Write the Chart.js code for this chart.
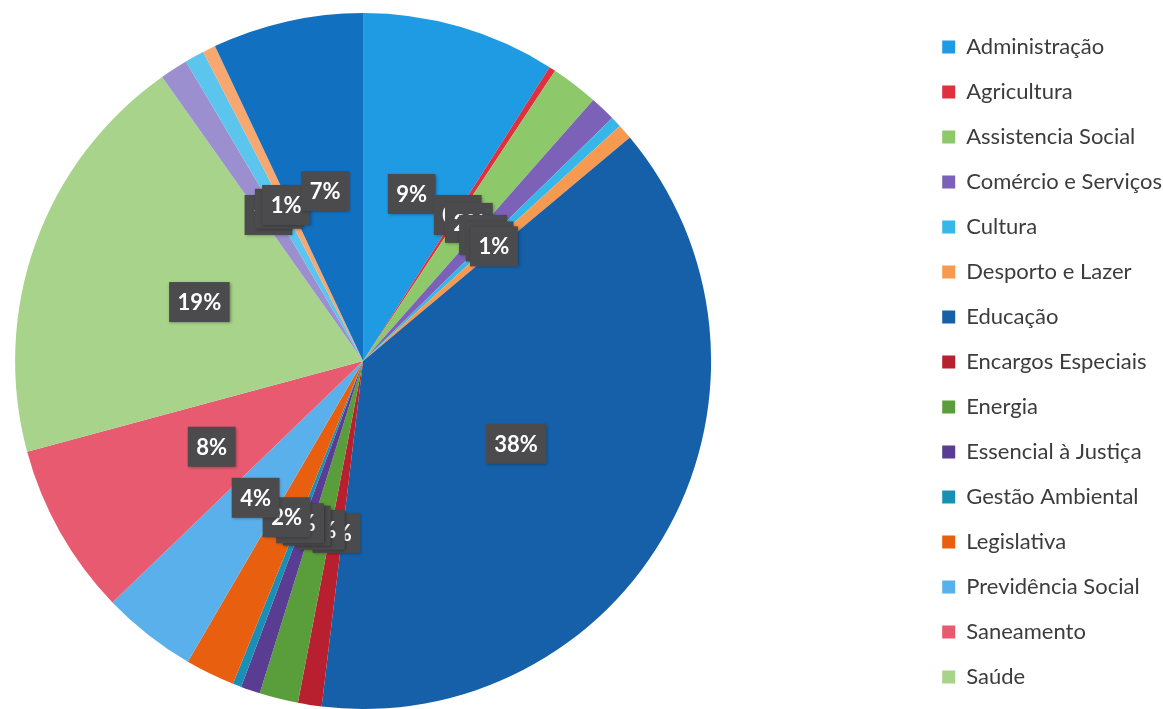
<!DOCTYPE html>
<html>
<head>
<meta charset="utf-8">
<script src="https://cdn.jsdelivr.net/npm/chart.js@4.4.1/dist/chart.umd.min.js"></script>
<style>
    html, body { margin: 0; padding: 0; background: #fff; overflow: hidden; }
    /* canvas is a bit wider than the window so the pie sits left like the original */
    #wrap { position: absolute; left: -193px; top: 0; width: 1365px; height: 709px; }
</style>
</head>
<body>
<div id="wrap"><canvas id="chart"></canvas></div>
<script>
// funções do orçamento (share of total, %)
const categories = [
    'Administração', 'Agricultura', 'Assistencia Social', 'Comércio e Serviços',
    'Cultura', 'Desporto e Lazer', 'Educação', 'Encargos Especiais', 'Energia',
    'Essencial à Justiça', 'Gestão Ambiental', 'Legislativa', 'Previdência Social',
    'Saneamento', 'Saúde', 'Segurança Pública', 'Trabalho', 'Transporte', 'Urbanismo'
];
const shares = [9.0, 0.3, 2.2, 1.2, 0.5, 0.7, 38.0, 1.1, 1.8, 0.9, 0.4, 2.3, 4.4, 8.0, 19.4, 1.3, 0.9, 0.6, 7.0];
const sliceColors = [
    '#1f9be3', '#e0303f', '#8dc86a', '#7b62b8', '#36b7e8', '#f59a50',
    '#1560a8', '#b8202f', '#5a9e3c', '#5a3d93', '#1a8fb5', '#e8600f',
    '#5ab0ea', '#e85a70', '#a8d38a', '#9b8fd0', '#5cc5ee', '#f7a870', '#1270c0'
];
// only the first 15 entries fit in the legend
const legendCount = 15;

const total = shares.reduce((a, b) => a + b, 0);

// grey boxed percentage labels
const boxLabels = {
    id: 'boxLabels',
    afterDatasetsDraw(chart) {
        const ctx = chart.ctx;
        const meta = chart.getDatasetMeta(0);
        ctx.save();
        ctx.font = 'bold 22px Lato';
        ctx.textAlign = 'center';
        ctx.textBaseline = 'middle';
        meta.data.forEach((arc, i) => {
            const p = arc.getCenterPoint();
            const txt = Math.round(shares[i] / total * 100) + '%';
            const w = ctx.measureText(txt).width + 17;
            const h = 40;
            ctx.shadowColor = 'rgba(0,0,0,0.35)';
            ctx.shadowBlur = 3;
            ctx.shadowOffsetX = 1;
            ctx.shadowOffsetY = 1;
            ctx.fillStyle = '#4b4b4d';
            ctx.fillRect(p.x - w / 2, p.y - h / 2, w, h);
            ctx.shadowColor = 'transparent';
            ctx.fillStyle = '#ffffff';
            ctx.fillText(txt, p.x, p.y + 1);
        });
        ctx.restore();
    }
};

const ctx = document.getElementById('chart');
const pieChart = new Chart(ctx, {
    type: 'pie',
    data: {
        labels: categories,
        datasets: [{
            data: shares,
            backgroundColor: sliceColors,
            borderWidth: 0
        }]
    },
    options: {
        responsive: true,
        maintainAspectRatio: false,
        animation: false,
        radius: 348,
        layout: {
            padding: { left: 0, top: 13, bottom: -4, right: 0 }
        },
        plugins: {
            tooltip: { enabled: false },
            legend: {
                position: 'right',
                align: 'start',
                labels: {
                    color: '#3c3c3c',
                    font: { family: 'Lato', size: 22 },
                    boxWidth: 13,
                    boxHeight: 13,
                    padding: 23,
                    filter: (item) => item.index < legendCount
                }
            }
        }
    },
    plugins: [boxLabels]
});
</script>
</body>
</html>
